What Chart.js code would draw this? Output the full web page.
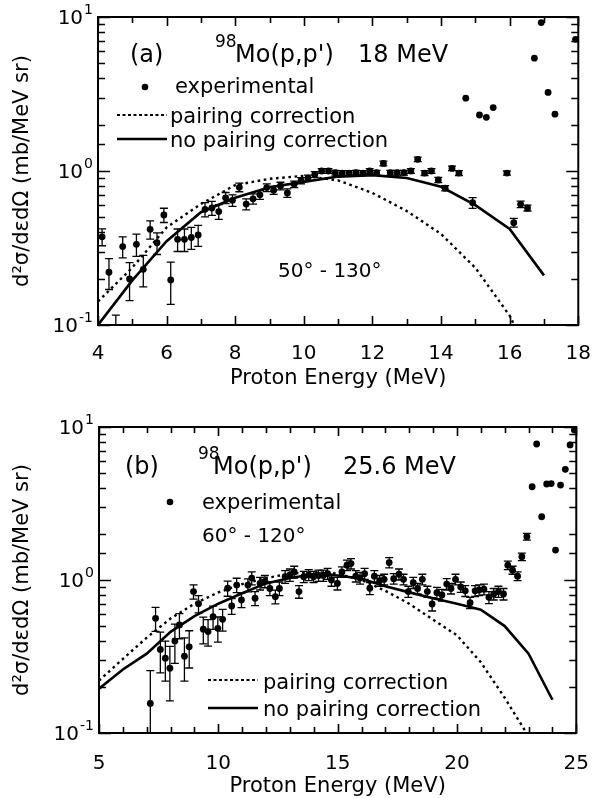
<!DOCTYPE html>
<html>
<head>
<meta charset="utf-8">
<script src="https://cdn.jsdelivr.net/npm/chart.js@4.4.0/dist/chart.umd.min.js"></script>
<style>
  html, body { margin: 0; padding: 0; background: #fff; }
  #wrap { position: relative; width: 600px; height: 798px; overflow: hidden; }
  canvas { position: absolute; left: 0; }
  #chartA { top: 0; }
  #chartB { top: 399px; }
</style>
</head>
<body>
<div id="wrap">
  <canvas id="chartA" width="600" height="399"></canvas>
  <canvas id="chartB" width="600" height="399"></canvas>
</div>
<script>
// ---------- (a) 98Mo(p,p') at 18 MeV, 50-130 deg ----------
const energyA = [4.12, 4.32, 4.52, 4.72, 4.92, 5.12, 5.32, 5.52, 5.72, 5.92, 6.12, 6.32, 6.52, 6.72, 6.92,
  7.12, 7.32, 7.52, 7.72, 7.92, 8.12, 8.32, 8.52, 8.72, 8.92, 9.12, 9.32, 9.52, 9.72, 9.92,
  10.12, 10.32, 10.52, 10.72, 10.92, 11.12, 11.32, 11.52, 11.72, 11.92, 12.12, 12.32, 12.52, 12.72, 12.92,
  13.12, 13.32, 13.52, 13.72, 13.92, 14.12, 14.32, 14.52, 14.72, 14.92, 15.12, 15.32, 15.52, 15.92,
  16.12, 16.32, 16.52, 16.72, 16.92, 17.12, 17.32, 17.92];
const sigmaA = [0.374, 0.22, 0.085, 0.323, 0.199, 0.334, 0.23, 0.418, 0.342, 0.518, 0.196, 0.36, 0.36, 0.37, 0.384,
  0.564, 0.575, 0.545, 0.67, 0.645, 0.783, 0.61, 0.66, 0.70, 0.78, 0.75, 0.80, 0.72, 0.82, 0.865,
  0.90, 0.95, 1.0, 1.0, 0.975, 0.97, 0.97, 0.975, 0.97, 1.0, 0.975, 1.12, 0.975, 0.975, 0.975,
  1.0, 1.19, 0.97, 1.0, 0.875, 0.773, 1.04, 0.97, 2.97, 0.622, 2.31, 2.23, 2.58, 0.97,
  0.462, 0.608, 0.575, 5.4, 9.2, 3.24, 2.34, 7.16];
const errA = [0.047, 0.05, 0.031, 0.05, 0.055, 0.055, 0.053, 0.057, 0.055, 0.055, 0.06, 0.06, 0.06, 0.06, 0.06,
  0.06, 0.06, 0.06, 0.055, 0.055, 0.05, 0.05, 0.05, 0.045, 0.045, 0.045, 0.045, 0.045, 0.04, 0.04,
  0.04, 0.04, 0.035, 0.035, 0.035, 0.035, 0.035, 0.035, 0.035, 0.035, 0.035, 0.04, 0.035, 0.035, 0.035,
  0.035, 0.04, 0.035, 0.035, 0.035, 0.03, 0.035, 0.035, 0, 0.05, 0, 0, 0, 0.03,
  0.03, 0.03, 0.025, 0, 0, 0, 0, 0];
const modelEA = [4, 5, 6, 7, 8, 9, 10, 11, 12, 13, 14, 15, 16, 17];
const pairingA = [0.142, 0.236, 0.43, 0.61, 0.81, 0.89, 0.93, 0.87, 0.72, 0.55, 0.39, 0.235, 0.115, 0.04];
const noPairingA = [0.10, 0.195, 0.35, 0.54, 0.67, 0.785, 0.85, 0.92, 0.94, 0.90, 0.79, 0.60, 0.42, 0.21];
const xTicksA = [4, 5, 6, 7, 8, 9, 10, 11, 12, 13, 14, 15, 16, 17, 18];
const xLabelsA = [4, 6, 8, 10, 12, 14, 16, 18];

// ---------- (b) 98Mo(p,p') at 25.6 MeV, 60-120 deg ----------
const energyB = [7.15, 7.37, 7.57, 7.78, 7.97, 8.18, 8.37, 8.58, 8.78, 8.96, 9.17, 9.37, 9.57, 9.78, 9.98,
  10.18, 10.39, 10.56, 10.77, 10.97, 11.24, 11.4, 11.54, 11.75, 11.95, 12.16, 12.39, 12.56, 12.8, 13.0,
  13.18, 13.38, 13.58, 13.79, 13.99, 14.2, 14.4, 14.58, 14.74, 14.99, 15.18, 15.39, 15.56, 15.76, 15.94,
  16.13, 16.35, 16.54, 16.76, 16.95, 17.16, 17.35, 17.57, 17.76, 17.96, 18.17, 18.35, 18.55, 18.76, 18.96,
  19.16, 19.37, 19.57, 19.75, 19.94, 20.16, 20.35, 20.55, 20.76, 20.93, 21.13, 21.34, 21.54, 21.74, 21.95,
  22.13, 22.33, 22.54, 22.72, 22.93, 23.15, 23.34, 23.55, 23.76, 23.95, 24.13, 24.34, 24.54, 24.74, 24.92];
const sigmaB = [0.156, 0.562, 0.352, 0.308, 0.265, 0.40, 0.508, 0.318, 0.366, 0.84, 0.70, 0.477, 0.46, 0.575, 0.483,
  0.553, 0.883, 0.676, 0.927, 0.74, 0.927, 1.03, 0.76, 0.95, 0.98, 0.88, 0.778, 0.88, 1.05, 1.08,
  1.13, 0.84, 1.05, 1.08, 1.05, 1.07, 1.07, 1.1, 1.0, 0.95, 1.13, 1.25, 1.28, 1.06, 1.03,
  1.1, 0.883, 1.06, 0.99, 1.01, 1.30, 1.02, 1.09, 1.01, 0.84, 0.96, 0.88, 1.01, 0.84, 0.697,
  0.826, 0.798, 0.94, 0.88, 1.01, 0.90, 0.85, 0.71, 0.85, 0.86, 0.87, 0.77, 0.81, 0.84, 0.81,
  1.25, 1.16, 1.06, 1.42, 1.92, 4.07, 7.74, 2.59, 4.24, 4.27, 1.57, 4.17, 5.29, 7.63, 9.55];
const errB = [0.1, 0.1, 0.105, 0.09, 0.103, 0.115, 0.095, 0.1, 0.1, 0.09, 0.09, 0.095, 0.09, 0.1, 0.09,
  0.09, 0.1, 0.08, 0.1, 0.08, 0.09, 0.1, 0.08, 0.09, 0.09, 0.09, 0.08, 0.09, 0.1, 0.1,
  0.1, 0.08, 0.09, 0.09, 0.09, 0.09, 0.09, 0.09, 0.09, 0.09, 0.09, 0.1, 0.1, 0.09, 0.09,
  0.09, 0.08, 0.09, 0.08, 0.08, 0.1, 0.08, 0.09, 0.08, 0.07, 0.08, 0.07, 0.08, 0.07, 0.07,
  0.07, 0.07, 0.08, 0.07, 0.08, 0.07, 0.07, 0.06, 0.07, 0.07, 0.07, 0.07, 0.07, 0.07, 0.07,
  0.08, 0.07, 0.07, 0.08, 0.1, 0, 0, 0, 0, 0, 0, 0, 0, 0, 0];
const modelEB = [5, 6, 7, 8, 9, 10, 11, 12, 13, 14, 15, 16, 17, 18, 19, 20, 21, 22, 23, 24];
const pairingB = [0.22, 0.305, 0.42, 0.56, 0.70, 0.83, 0.94, 1.03, 1.10, 1.13, 1.10, 1.0, 0.85, 0.70, 0.55,
  0.435, 0.29, 0.17, 0.095, 0.05];
const noPairingB = [0.195, 0.26, 0.33, 0.458, 0.58, 0.70, 0.82, 0.95, 1.03, 1.09, 1.07, 1.02, 0.91, 0.83, 0.76,
  0.70, 0.64, 0.50, 0.33, 0.165];
const xTicksB = [5, 6, 7, 8, 9, 10, 11, 12, 13, 14, 15, 16, 17, 18, 19, 20, 21, 22, 23, 24, 25];
const xLabelsB = [5, 10, 15, 20, 25];

// shared log axis: decades and their exponents
const yDecades = [0.1, 1, 10];
const yExponents = ['-1', '0', '1'];

const FONT = '"DejaVu Sans", sans-serif';
const INK = '#000';

function toPoints(xs, ys) { return xs.map((x, i) => ({ x, y: ys[i] })); }

// frame, inward ticks, decade labels, error bars and in-plot annotations
const decor = {
  id: 'decor',
  afterDatasetsDraw(chart) {
    const { ctx, chartArea: a, scales: { x, y } } = chart;
    ctx.save();
    ctx.beginPath();
    ctx.rect(a.left, a.top, a.right - a.left, a.bottom - a.top);
    ctx.clip();
    ctx.strokeStyle = INK;
    ctx.lineWidth = 1.3;
    chart.data.datasets.forEach(ds => {
      if (!ds.errors) return;
      ds.data.forEach((p, i) => {
        const e = ds.errors[i];
        if (!e) return;
        const px = x.getPixelForValue(p.x);
        const yTop = y.getPixelForValue(p.y + e);
        const yBot = y.getPixelForValue(Math.max(p.y - e, 0.001));
        ctx.beginPath();
        ctx.moveTo(px, yTop); ctx.lineTo(px, yBot);
        ctx.moveTo(px - 4, yTop); ctx.lineTo(px + 4, yTop);
        ctx.moveTo(px - 4, yBot); ctx.lineTo(px + 4, yBot);
        ctx.stroke();
      });
    });
    ctx.restore();
  },
  afterDraw(chart, args, opts) {
    const { ctx, chartArea: a, scales: { x, y } } = chart;
    ctx.save();
    ctx.strokeStyle = INK;
    ctx.fillStyle = INK;

    // inward tick marks on all four sides
    ctx.lineWidth = 1.6;
    ctx.beginPath();
    opts.xTicks.forEach(v => {
      const px = Math.round(x.getPixelForValue(v)) + 0.5;
      const len = opts.xLabels.includes(v) ? 9 : 6;
      ctx.moveTo(px, a.bottom); ctx.lineTo(px, a.bottom - len);
      ctx.moveTo(px, a.top); ctx.lineTo(px, a.top + len);
    });
    y.ticks.forEach(t => {
      const lg = Math.log10(t.value);
      const major = Math.abs(lg - Math.round(lg)) < 1e-6;
      const py = Math.round(y.getPixelForValue(t.value)) + 0.5;
      const len = major ? 12 : 7;
      ctx.moveTo(a.left, py); ctx.lineTo(a.left + len, py);
      ctx.moveTo(a.right, py); ctx.lineTo(a.right - len, py);
    });
    ctx.stroke();

    // plot frame
    ctx.lineWidth = 2;
    ctx.strokeRect(a.left, a.top, a.right - a.left, a.bottom - a.top);

    // decade labels 10^n
    yDecades.forEach((v, i) => {
      const py = y.getPixelForValue(v);
      ctx.font = '14px ' + FONT;
      const supW = ctx.measureText(yExponents[i]).width;
      ctx.textAlign = 'right';
      ctx.textBaseline = 'alphabetic';
      const right = a.left - 5;
      ctx.fillText(yExponents[i], right, py - 3);
      ctx.font = '20px ' + FONT;
      ctx.fillText('10', right - supW - 1, py + 7);
    });

    // annotation texts
    opts.texts.forEach(t => {
      ctx.font = t.size + 'px ' + FONT;
      ctx.textAlign = 'left';
      ctx.textBaseline = 'alphabetic';
      ctx.fillText(t.text, t.x, t.y);
    });

    // legend keys
    opts.keys.forEach(k => {
      if (k.kind === 'dot') {
        ctx.beginPath();
        ctx.arc(k.x1, k.y, 3.3, 0, Math.PI * 2);
        ctx.fill();
      } else {
        ctx.beginPath();
        ctx.lineWidth = k.kind === 'solid' ? 2.4 : 2.2;
        ctx.setLineDash(k.kind === 'solid' ? [] : [3, 2.5]);
        ctx.moveTo(k.x1, k.y); ctx.lineTo(k.x2, k.y);
        ctx.stroke();
        ctx.setLineDash([]);
      }
    });
    ctx.restore();
  }
};

function makeChart(canvasId, cfg) {
  return new Chart(document.getElementById(canvasId), {
    type: 'scatter',
    data: {
      datasets: [
        {
          label: 'experimental',
          data: toPoints(cfg.energy, cfg.sigma),
          errors: cfg.err,
          pointRadius: 3.4,
          pointHoverRadius: 3.4,
          pointBackgroundColor: INK,
          pointBorderWidth: 0,
          showLine: false
        },
        {
          type: 'line',
          label: 'pairing correction',
          data: toPoints(cfg.modelE, cfg.pairing),
          borderColor: INK,
          borderWidth: 2.4,
          borderDash: [2.6, 3.6],
          pointRadius: 0,
          tension: 0,
          fill: false
        },
        {
          type: 'line',
          label: 'no pairing correction',
          data: toPoints(cfg.modelE, cfg.noPairing),
          borderColor: INK,
          borderWidth: 2.6,
          pointRadius: 0,
          tension: 0,
          fill: false
        }
      ]
    },
    options: {
      responsive: false,
      animation: false,
      events: [],
      layout: { padding: { top: cfg.padTop, right: 12, left: 0, bottom: 0 } },
      plugins: {
        legend: { display: false },
        tooltip: { enabled: false },
        decor: { xTicks: cfg.xTicks, xLabels: cfg.xLabels, texts: cfg.texts, keys: cfg.keys }
      },
      scales: {
        x: {
          type: 'linear',
          min: cfg.xMin,
          max: cfg.xMax,
          afterBuildTicks: s => { s.ticks = cfg.xTicks.map(v => ({ value: v })); },
          ticks: {
            autoSkip: false,
            maxRotation: 0,
            color: INK,
            font: { family: FONT, size: 20 },
            padding: cfg.xTickPad,
            callback: v => (cfg.xLabels.includes(v) ? String(v) : '')
          },
          grid: { display: false },
          border: { display: false },
          title: {
            display: true,
            text: 'Proton Energy (MeV)',
            color: INK,
            font: { family: FONT, size: 21, lineHeight: 1.1 },
            padding: { top: 0, bottom: cfg.xTitlePad }
          },
          afterFit: s => { s.height = cfg.xAxisHeight; }
        },
        y: {
          type: 'logarithmic',
          min: 0.1,
          max: 10,
          ticks: { display: false },
          grid: { display: false },
          border: { display: false },
          title: {
            display: true,
            text: 'd²σ/dεdΩ (mb/MeV sr)',
            color: INK,
            font: { family: FONT, size: 21 },
            padding: { top: 10, bottom: 0 }
          },
          afterFit: s => { s.width = cfg.yAxisWidth; }
        }
      }
    },
    plugins: [decor]
  });
}

makeChart('chartA', {
  energy: energyA, sigma: sigmaA, err: errA,
  modelE: modelEA, pairing: pairingA, noPairing: noPairingA,
  xMin: 4, xMax: 18, xTicks: xTicksA, xLabels: xLabelsA,
  padTop: 17, xAxisHeight: 74, yAxisWidth: 98, xTickPad: 9, xTitlePad: 9,
  texts: [
    { text: '(a)', x: 130, y: 62, size: 24 },
    { text: '98', x: 215, y: 47, size: 17 },
    { text: "Mo(p,p')", x: 235, y: 62, size: 24 },
    { text: '18 MeV', x: 358, y: 62, size: 24 },
    { text: 'experimental', x: 175, y: 93, size: 21 },
    { text: 'pairing correction', x: 170, y: 123, size: 21 },
    { text: 'no pairing correction', x: 170, y: 147, size: 21 },
    { text: '50° - 130°', x: 278, y: 277, size: 20 }
  ],
  keys: [
    { kind: 'dot', x1: 145, y: 87 },
    { kind: 'dotted', x1: 117, x2: 167, y: 115 },
    { kind: 'solid', x1: 117, x2: 167, y: 139 }
  ]
});

makeChart('chartB', {
  energy: energyB, sigma: sigmaB, err: errB,
  modelE: modelEB, pairing: pairingB, noPairing: noPairingB,
  xMin: 5, xMax: 25, xTicks: xTicksB, xLabels: xLabelsB,
  padTop: 28, xAxisHeight: 65, yAxisWidth: 99, xTickPad: 11, xTitlePad: 0,
  texts: [
    { text: '(b)', x: 125, y: 75, size: 24 },
    { text: '98', x: 198, y: 60, size: 17 },
    { text: "Mo(p,p')", x: 213, y: 75, size: 24 },
    { text: '25.6 MeV', x: 343, y: 75, size: 24 },
    { text: 'experimental', x: 202, y: 110, size: 21 },
    { text: '60° - 120°', x: 202, y: 143, size: 20 },
    { text: 'pairing correction', x: 263, y: 290, size: 21 },
    { text: 'no pairing correction', x: 263, y: 317, size: 21 }
  ],
  keys: [
    { kind: 'dot', x1: 170, y: 103 },
    { kind: 'dotted', x1: 208, x2: 258, y: 281 },
    { kind: 'solid', x1: 208, x2: 258, y: 309 }
  ]
});
</script>
</body>
</html>
